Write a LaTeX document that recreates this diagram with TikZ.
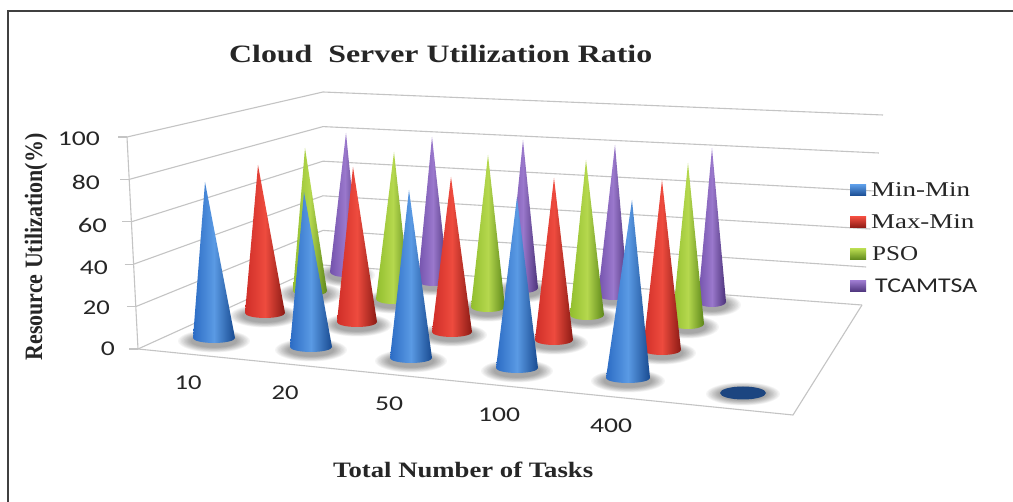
\documentclass[tikz,border=0pt]{standalone}
\usepackage{fontspec}
\setmainfont{Liberation Serif}
\newfontfamily\calib{Carlito}
\usepackage{graphicx}
\definecolor{bL}{HTML}{5A9AE4}\definecolor{bM}{HTML}{2C6CC4}\definecolor{bD}{HTML}{184A90}
\definecolor{rL}{HTML}{EE4B3E}\definecolor{rM}{HTML}{CF2E28}\definecolor{rD}{HTML}{8A1A14}
\definecolor{gL}{HTML}{B5D84E}\definecolor{gM}{HTML}{92BE2E}\definecolor{gD}{HTML}{5C861A}
\definecolor{pL}{HTML}{9A78CC}\definecolor{pM}{HTML}{7352AC}\definecolor{pD}{HTML}{4B3279}
\definecolor{gridc}{HTML}{C4C4C4}
\definecolor{navy}{HTML}{1C4580}
\newcommand{\mycone}[6]{%
  \path[shade, left color=#1M, right color=#1D, middle color=#1L]
    (#2-#4,#3) -- (#5,#6) -- (#2+#4,#3)
    arc[start angle=0, end angle=180, x radius=#4, y radius=5] -- cycle;}
\newcommand{\myshad}[3]{%
  \foreach \k in {0,...,9}{
    \fill[black, opacity=0.04] (#1,#2+3) ellipse[x radius={#3+15-1.4*\k}, y radius={11.5-0.55*\k}];}}
\newcommand{\fitw}[2]{\resizebox{#1pt}{\height}{#2}}
\tikzset{
  grid/.style={draw=gridc, line width=1.1pt},
  txt/.style={inner sep=0pt, text=black!85}
}
\begin{document}
\begin{tikzpicture}[x=1pt,y=-1pt]
\useasboundingbox (0,0) rectangle (1013,502);
\fill[white] (0,0) rectangle (1013,502);
% frame
\draw[line width=2.5pt, draw=black!75] (8,560) -- (8,11) -- (1060,11);
% walls and gridlines
\foreach \L in {0,20,...,100}{
  \draw[grid] ({138-0.11*\L},{349-2.12*\L}) -- (323,{265-1.73*\L}) -- ({862+0.21*\L},{305-1.9*\L});
  \draw[grid] ({129-0.11*\L},{349-2.12*\L}) -- ({138-0.11*\L},{349-2.12*\L});
}
\draw[grid] (127,137) -- (138,349);
\draw[grid] (138,349) -- (793,415) -- (862,305);
% shadows
\myshad{345}{272}{15}\myshad{433}{281}{15}\myshad{523}{288}{15}\myshad{613}{295}{15}\myshad{712}{302}{14}
\myshad{310}{291}{17}\myshad{393}{299}{17}\myshad{488}{307}{17}\myshad{587}{315}{17}\myshad{688}{324}{16}
\myshad{265}{313}{20}\myshad{357}{322}{20}\myshad{452}{332}{20}\myshad{554}{340}{19}\myshad{662}{350}{19}
\myshad{214}{338}{21}\myshad{311}{347}{21}\myshad{411}{358}{21}\myshad{517}{368}{21}\myshad{628}{378}{22}
\myshad{743}{391}{22}
% purple row
\mycone{p}{345}{272}{15}{346}{133}
\mycone{p}{433}{281}{15}{432}{137}
\mycone{p}{523}{288}{15}{523}{140}
\mycone{p}{613}{295}{15}{615}{145}
\mycone{p}{712}{302}{14}{712}{148}
% green row
\mycone{g}{310}{291}{17}{305}{148}
\mycone{g}{393}{299}{17}{394}{152}
\mycone{g}{488}{307}{17}{488}{155}
\mycone{g}{587}{315}{17}{586}{160}
\mycone{g}{688}{324}{16}{688}{163}
% red row
\mycone{r}{265}{313}{20}{258}{165}
\mycone{r}{357}{322}{20}{353}{167}
\mycone{r}{452}{332}{20}{451}{177}
\mycone{r}{554}{340}{19}{554}{178}
\mycone{r}{662}{350}{19}{662}{180}
% blue row
\mycone{b}{214}{338}{21}{205}{182}
\mycone{b}{311}{347}{21}{304}{192}
\mycone{b}{411}{358}{21}{409}{190}
\mycone{b}{517}{368}{21}{517}{197}
\mycone{b}{628}{378}{22}{632}{200}
\fill[navy] (743,393) ellipse[x radius=23, y radius=6.5];
% title
\node[txt, anchor=base west] (title) at (229,63) {\fontsize{25}{25}\selectfont\bfseries\fitw{423}{Cloud\ \ Server Utilization Ratio}};
\node[txt, anchor=base, rotate=90] (ytitle) at (42,247) {\fontsize{25}{25}\selectfont\bfseries\fitw{227}{Resource Utilization(\%)}};
\node[txt, anchor=base west] (xtitle) at (333,478) {\fontsize{22}{22}\selectfont\bfseries\fitw{260}{Total Number of Tasks}};
% y ticks
\node[txt, anchor=east] (y100) at (100,139) {\calib\fontsize{21}{21}\selectfont\fitw{42}{100}};
\node[txt, anchor=east] (y80) at (100,182) {\calib\fontsize{21}{21}\selectfont\fitw{28}{80}};
\node[txt, anchor=east] (y60) at (107,225) {\calib\fontsize{21}{21}\selectfont\fitw{29}{60}};
\node[txt, anchor=east] (y40) at (108,268) {\calib\fontsize{21}{21}\selectfont\fitw{28}{40}};
\node[txt, anchor=east] (y20) at (110,308) {\calib\fontsize{21}{21}\selectfont\fitw{27}{20}};
\node[txt, anchor=east] (y0) at (115,349) {\calib\fontsize{21}{21}\selectfont\fitw{14}{0}};
% categories
\node[txt] (c10) at (188,383) {\calib\fontsize{21}{21}\selectfont\fitw{27}{10}};
\node[txt] (c20) at (285,393) {\calib\fontsize{21}{21}\selectfont\fitw{27}{20}};
\node[txt] (c50) at (389,404) {\calib\fontsize{21}{21}\selectfont\fitw{28}{50}};
\node[txt] (c100) at (499,415) {\calib\fontsize{21}{21}\selectfont\fitw{42}{100}};
\node[txt] (c400) at (611,426) {\calib\fontsize{21}{21}\selectfont\fitw{42}{400}};
% legend
\shade[top color=bL, bottom color=bD] (850,185) rectangle (866,196);
\shade[top color=rL, bottom color=rD] (850,217) rectangle (866,228);
\shade[top color=gL, bottom color=gD] (850,249) rectangle (866,260);
\shade[top color=pL, bottom color=pD] (850,281) rectangle (866,292);
\node[txt, anchor=west] (l1) at (871,190) {\fontsize{21}{21}\selectfont\fitw{99}{Min-Min}};
\node[txt, anchor=west] (l2) at (871,222) {\fontsize{21}{21}\selectfont\fitw{103}{Max-Min}};
\node[txt, anchor=west] (l3) at (872,254) {\fontsize{21}{21}\selectfont\fitw{46}{PSO}};
\node[txt, anchor=west] (l4) at (875,286) {\calib\fontsize{21}{21}\selectfont\fitw{102}{TCAMTSA}};
\end{tikzpicture}
\end{document}
